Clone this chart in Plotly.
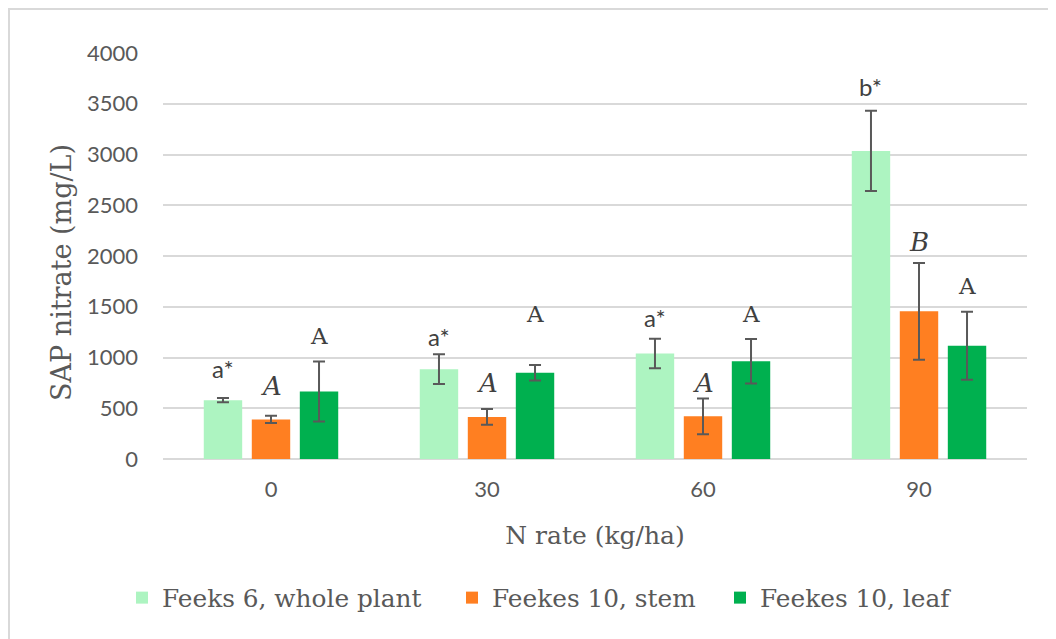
import plotly.graph_objects as go

# ---- data ----
categories = ["0", "30", "60", "90"]
series_names = ["Feeks 6, whole plant", "Feekes 10, stem", "Feekes 10, leaf"]
whole_plant = [580, 885, 1040, 3035]
whole_plant_err = [20, 146, 145, 395]
stem = [390, 415, 420, 1455]
stem_err = [35, 77, 177, 477]
leaf = [665, 850, 963, 1115]
leaf_err = [295, 77, 220, 335]

# significance letters (per series, per category) and their heights (mg/L)
whole_plant_labels = ["a*", "a*", "a*", "b*"]
stem_labels = ["A", "A", "A", "B"]
leaf_labels = ["A", "A", "A", "A"]
whole_plant_label_y = [782, 1098, 1276, 3560]
stem_label_y = [600, 634, 634, 2015]
leaf_label_y = [1109, 1326, 1326, 1604]

y_ticks = [0, 500, 1000, 1500, 2000, 2500, 3000, 3500, 4000]

colors = ["#ADF4C1", "#FF7F21", "#00B04F"]
err_color = "#595959"
text_color = "#595959"
serif = "DejaVu Serif"
sans = "Lato"

W, H = 1056, 639
PAGE = 8  # page body offset of the figure in the browser
pw, ph = 864, 406
L, T = 163 - PAGE, 53 - PAGE
R, B = W - L - pw, H - T - ph


def px_x(x):  # screen px -> paper x
    return (x - PAGE - L) / pw


def px_y(y):  # screen px -> paper y
    return (T + ph - (y - PAGE)) / ph


legend_keys = ["legend", "legend2", "legend3"]
legend_px = [122, 452, 720]

fig = go.Figure()
for name, vals, errs, col, lk in zip(series_names, [whole_plant, stem, leaf],
                                     [whole_plant_err, stem_err, leaf_err], colors, legend_keys):
    fig.add_trace(go.Bar(
        name=name, x=categories, y=vals, marker=dict(color=col, line=dict(width=0)),
        error_y=dict(type="data", array=errs, visible=True, color=err_color,
                     thickness=2, width=6),
        legend=lk,
    ))

# labels
label_sets = [
    (whole_plant_labels, whole_plant_label_y, dict(family=sans, size=24, color="#404040")),
    (stem_labels, stem_label_y, dict(family=serif, size=26, color="#404040", style="italic")),
    (leaf_labels, leaf_label_y, dict(family=serif, size=23, color="#404040")),
]
slot = pw / len(categories) * (1 - 0.333) / 3
for i, (labs, ys, font) in enumerate(label_sets):
    for j, (lab, yv) in enumerate(zip(labs, ys)):
        fig.add_annotation(x=j, y=yv, xref="x", yref="y", text=lab, showarrow=False,
                           xanchor="center", yanchor="bottom", xshift=(i - 1) * slot,
                           yshift=-5, font=font)

# y-axis title as annotation
fig.add_annotation(x=px_x(61), y=px_y(273), xref="paper", yref="paper",
                   text="SAP nitrate (mg/L)", textangle=-90, showarrow=False,
                   font=dict(family=serif, size=27, color=text_color),
                   xanchor="center", yanchor="middle")

# outer border
fig.add_shape(type="rect", xref="paper", yref="paper",
              x0=px_x(9), x1=px_x(1075), y0=px_y(660), y1=px_y(9),
              line=dict(color="#d9d9d9", width=2), fillcolor="rgba(0,0,0,0)", layer="below")

legend_style = dict(orientation="h", y=px_y(598), xanchor="left", yanchor="middle",
                    font=dict(family=serif, size=24.8, color=text_color),
                    bgcolor="rgba(0,0,0,0)")

fig.update_layout(
    width=W, height=H,
    margin=dict(l=L, r=R, t=T, b=B, autoexpand=False),
    paper_bgcolor="white", plot_bgcolor="white",
    barmode="group", bargap=0.333, bargroupgap=0.2,
    showlegend=True,
    xaxis=dict(
        type="category", range=[-0.5, 3.5], showgrid=False, showline=False, zeroline=False,
        ticks="", tickfont=dict(family=sans, size=22, color=text_color), ticklabelstandoff=15,
        title=dict(text="N rate (kg/ha)", font=dict(family=serif, size=25, color=text_color),
                   standoff=25),
    ),
    yaxis=dict(
        range=[0, 4000], tickvals=y_ticks, showgrid=True, gridcolor="#d9d9d9", gridwidth=2,
        zeroline=True, zerolinecolor="#d9d9d9", zerolinewidth=2, showline=False, ticks="",
        tickfont=dict(family=sans, size=22, color=text_color), ticklabelstandoff=24,
    ),
)
for lk, px in zip(legend_keys, legend_px):
    fig.update_layout({lk: dict(legend_style, x=px_x(px))})

fig.write_html("out.html")
